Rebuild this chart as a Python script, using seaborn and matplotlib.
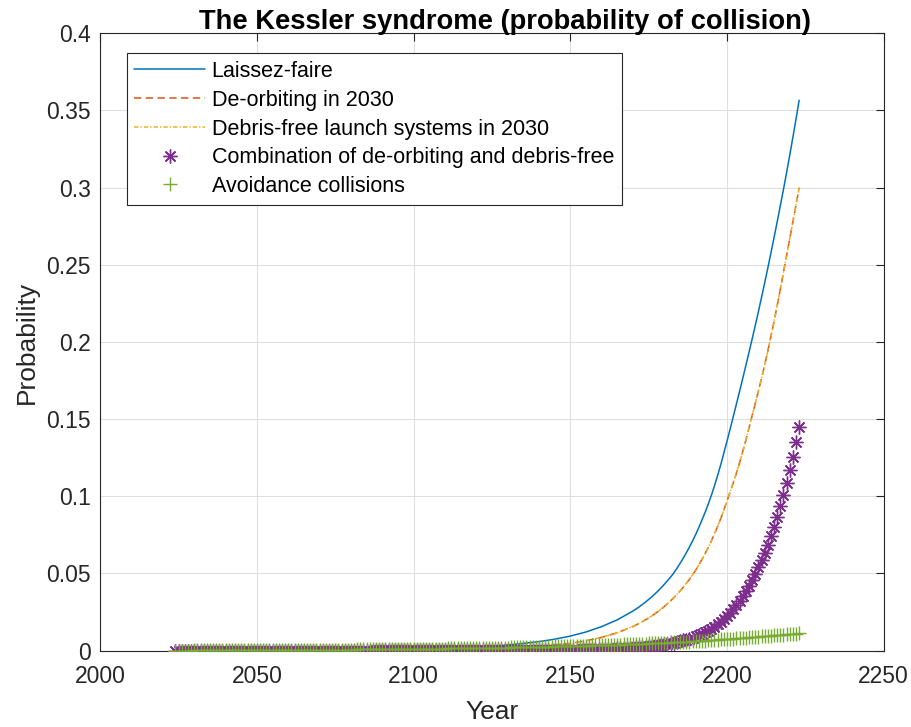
import matplotlib
matplotlib.use("Agg")
import matplotlib.pyplot as plt
import seaborn as sns

# ---------------------------------------------------------------------------
# Data
# ---------------------------------------------------------------------------
# Yearly results for the marker series (2024 .. 2223)
years = list(range(2024, 2224))

combination = [
    0.00001, 0.00001, 0.00001, 0.00001, 0.00001, 0.00001,
    0.00001, 0.00001, 0.00001, 0.00001, 0.00002, 0.00002, 0.00002, 0.00002, 0.00002, 0.00002,
    0.00002, 0.00002, 0.00002, 0.00002, 0.00003, 0.00003, 0.00003, 0.00003, 0.00003, 0.00003,
    0.00003, 0.00003, 0.00003, 0.00004, 0.00004, 0.00004, 0.00004, 0.00004, 0.00004, 0.00004,
    0.00004, 0.00004, 0.00005, 0.00005, 0.00005, 0.00005, 0.00005, 0.00005, 0.00006, 0.00006,
    0.00006, 0.00006, 0.00006, 0.00006, 0.00007, 0.00007, 0.00007, 0.00007, 0.00008, 0.00008,
    0.00008, 0.00008, 0.00009, 0.00009, 0.00009, 0.00010, 0.00010, 0.00010, 0.00011, 0.00011,
    0.00011, 0.00011, 0.00011, 0.00012, 0.00012, 0.00012, 0.00012, 0.00013, 0.00013, 0.00013,
    0.00013, 0.00013, 0.00014, 0.00014, 0.00015, 0.00015, 0.00016, 0.00016, 0.00017, 0.00017,
    0.00018, 0.00018, 0.00019, 0.00019, 0.00020, 0.00021, 0.00021, 0.00022, 0.00023, 0.00024,
    0.00024, 0.00025, 0.00026, 0.00027, 0.00028, 0.00029, 0.00030, 0.00031, 0.00032, 0.00033,
    0.00034, 0.00035, 0.00036, 0.00037, 0.00038, 0.00039, 0.00040, 0.00042, 0.00043, 0.00044,
    0.00045, 0.00047, 0.00048, 0.00050, 0.00052, 0.00054, 0.00056, 0.00058, 0.00060, 0.00062,
    0.00065, 0.00068, 0.00071, 0.00075, 0.00079, 0.00083, 0.00088, 0.00093, 0.00098, 0.00104,
    0.00110, 0.00117, 0.00124, 0.00131, 0.00139, 0.00148, 0.00158, 0.00168, 0.00179, 0.00191,
    0.00204, 0.00218, 0.00233, 0.00249, 0.00267, 0.00287, 0.00308, 0.00331, 0.00356, 0.00383,
    0.00413, 0.00446, 0.00481, 0.00520, 0.00563, 0.00610, 0.00661, 0.00717, 0.00779, 0.00847,
    0.00921, 0.01003, 0.01094, 0.01193, 0.01303, 0.01424, 0.01558, 0.01706, 0.01870, 0.02051,
    0.02250, 0.02468, 0.02705, 0.02960, 0.03235, 0.03532, 0.03854, 0.04197, 0.04566, 0.04963,
    0.05390, 0.05848, 0.06339, 0.06865, 0.07428, 0.08030, 0.08672, 0.09357, 0.10087, 0.10864,
    0.11690, 0.12566, 0.13496, 0.14481,
]

avoidance = [
    0.00005, 0.00006, 0.00007, 0.00008, 0.00009, 0.00010,
    0.00011, 0.00012, 0.00013, 0.00014, 0.00015, 0.00016, 0.00017, 0.00018, 0.00019, 0.00020,
    0.00021, 0.00022, 0.00023, 0.00024, 0.00025, 0.00026, 0.00027, 0.00028, 0.00029, 0.00030,
    0.00031, 0.00032, 0.00033, 0.00034, 0.00035, 0.00036, 0.00037, 0.00038, 0.00039, 0.00040,
    0.00041, 0.00042, 0.00043, 0.00044, 0.00045, 0.00046, 0.00047, 0.00048, 0.00049, 0.00050,
    0.00052, 0.00054, 0.00056, 0.00058, 0.00060, 0.00062, 0.00064, 0.00066, 0.00068, 0.00070,
    0.00072, 0.00074, 0.00076, 0.00078, 0.00080, 0.00082, 0.00084, 0.00086, 0.00088, 0.00090,
    0.00092, 0.00094, 0.00096, 0.00098, 0.00100, 0.00102, 0.00104, 0.00106, 0.00108, 0.00110,
    0.00112, 0.00115, 0.00117, 0.00120, 0.00122, 0.00125, 0.00127, 0.00130, 0.00132, 0.00135,
    0.00138, 0.00141, 0.00144, 0.00147, 0.00150, 0.00153, 0.00156, 0.00159, 0.00162, 0.00165,
    0.00169, 0.00172, 0.00176, 0.00179, 0.00183, 0.00186, 0.00190, 0.00193, 0.00197, 0.00200,
    0.00204, 0.00208, 0.00212, 0.00216, 0.00220, 0.00224, 0.00228, 0.00232, 0.00236, 0.00240,
    0.00245, 0.00250, 0.00255, 0.00260, 0.00265, 0.00270, 0.00275, 0.00280, 0.00285, 0.00290,
    0.00296, 0.00302, 0.00308, 0.00314, 0.00320, 0.00326, 0.00332, 0.00338, 0.00344, 0.00350,
    0.00357, 0.00364, 0.00371, 0.00378, 0.00385, 0.00392, 0.00399, 0.00406, 0.00413, 0.00420,
    0.00428, 0.00436, 0.00444, 0.00452, 0.00460, 0.00468, 0.00476, 0.00484, 0.00492, 0.00500,
    0.00510, 0.00520, 0.00530, 0.00540, 0.00550, 0.00560, 0.00570, 0.00580, 0.00590, 0.00600,
    0.00614, 0.00628, 0.00642, 0.00656, 0.00670, 0.00684, 0.00698, 0.00712, 0.00726, 0.00740,
    0.00756, 0.00772, 0.00788, 0.00804, 0.00820, 0.00836, 0.00852, 0.00868, 0.00884, 0.00900,
    0.00916, 0.00932, 0.00948, 0.00964, 0.00980, 0.00996, 0.01012, 0.01028, 0.01044, 0.01060,
    0.01076, 0.01092, 0.01108, 0.01124,
]

# Sampled years for the continuous scenarios (denser where the curves bend)
line_years = [2024, 2030, 2040, 2050, 2060, 2070, 2080, 2090, 2100, 2110, 2120,
              2130, 2140, 2145, 2150, 2155, 2160, 2165, 2170, 2172, 2174, 2176,
              2178, 2180, 2182] + list(range(2183, 2224))

laissez_faire = [
    0.00002, 0.00003, 0.00005, 0.00008, 0.00013, 0.00020, 0.00033, 0.00053, 0.00086,
    0.00139, 0.00224, 0.00362, 0.00585, 0.00743, 0.00945, 0.01210, 0.01560, 0.02000,
    0.02570, 0.02840, 0.03150, 0.03490, 0.03870, 0.04300, 0.04770,
    0.0503, 0.0533, 0.0565, 0.0598, 0.0634, 0.0671, 0.0711, 0.0753, 0.0798, 0.0846,
    0.0896, 0.0949, 0.1006, 0.1069, 0.1135, 0.1206, 0.1281, 0.1358, 0.1437, 0.1517,
    0.1598, 0.1680, 0.1763, 0.1847, 0.1932, 0.2018, 0.2106, 0.2196, 0.2288, 0.2382,
    0.2478, 0.2576, 0.2676, 0.2778, 0.2882, 0.2988, 0.3097, 0.3209, 0.3324, 0.3443,
    0.3566,
]

deorbiting = [
    0.00001, 0.00001, 0.00002, 0.00004, 0.00006, 0.00010, 0.00016, 0.00026, 0.00042,
    0.00068, 0.00110, 0.00180, 0.00290, 0.00370, 0.00470, 0.00640, 0.00860, 0.01160,
    0.01570, 0.01770, 0.02000, 0.02250, 0.02540, 0.02860, 0.03230,
    0.0343, 0.0364, 0.0386, 0.0410, 0.0436, 0.0462, 0.0491, 0.0522, 0.0555, 0.0591,
    0.0629, 0.0669, 0.0711, 0.0757, 0.0805, 0.0857, 0.0911, 0.0970, 0.1029, 0.1088,
    0.1151, 0.1218, 0.1288, 0.1363, 0.1442, 0.1522, 0.1601, 0.1681, 0.1763, 0.1849,
    0.1940, 0.2035, 0.2133, 0.2235, 0.2341, 0.2450, 0.2558, 0.2667, 0.2777, 0.2888,
    0.3000,
]

debris_free = [
    0.00001, 0.00001, 0.00002, 0.00004, 0.00006, 0.00010, 0.00016, 0.00026, 0.00042,
    0.00068, 0.00110, 0.00180, 0.00290, 0.00370, 0.00470, 0.00640, 0.00860, 0.01160,
    0.01570, 0.01770, 0.02000, 0.02250, 0.02540, 0.02860, 0.03230,
    0.0343, 0.0364, 0.0386, 0.0410, 0.0436, 0.0462, 0.0491, 0.0522, 0.0555, 0.0591,
    0.0629, 0.0669, 0.0711, 0.0757, 0.0805, 0.0857, 0.0911, 0.0970, 0.1029, 0.1088,
    0.1151, 0.1218, 0.1288, 0.1363, 0.1442, 0.1522, 0.1601, 0.1681, 0.1763, 0.1849,
    0.1940, 0.2035, 0.2133, 0.2235, 0.2341, 0.2450, 0.2558, 0.2667, 0.2777, 0.2888,
    0.3000,
]

labels = [
    "Laissez-faire",
    "De-orbiting in 2030",
    "Debris-free launch systems in 2030",
    "Combination of de-orbiting and debris-free",
    "Avoidance collisions",
]
colors = ["#0072BD", "#D95319", "#EDB120", "#7E2F8E", "#77AC30"]

x_ticks = [2000, 2050, 2100, 2150, 2200, 2250]
y_ticks = [0, 0.05, 0.1, 0.15, 0.2, 0.25, 0.3, 0.35, 0.4]
y_ticklabels = ["0", "0.05", "0.1", "0.15", "0.2", "0.25", "0.3", "0.35", "0.4"]

# ---------------------------------------------------------------------------
# Style
# ---------------------------------------------------------------------------
sns.set_theme(style="white")
plt.rcParams["font.family"] = ["Liberation Sans", "DejaVu Sans"]
ink = "#262626"

fig = plt.figure(figsize=(9.12, 7.27), dpi=100)
ax = fig.add_axes([0.1099, 0.1050, 0.8591, 0.8492])

# ---------------------------------------------------------------------------
# Series
# ---------------------------------------------------------------------------
lw = 1.1
sns.lineplot(x=line_years, y=laissez_faire, ax=ax, color=colors[0], lw=lw,
             label=labels[0], zorder=3)
sns.lineplot(x=line_years, y=deorbiting, ax=ax, color=colors[1], lw=lw,
             label=labels[1], zorder=3)
ax.lines[-1].set_dashes([4.8, 2.9])
sns.lineplot(x=line_years, y=debris_free, ax=ax, color=colors[2], lw=lw,
             label=labels[2], zorder=3)
ax.lines[-1].set_dashes([2.9, 1.3, 0.9, 1.3])

sns.lineplot(x=years, y=combination, ax=ax, color=colors[3], linestyle="none",
             marker=(8, 2, 0), markersize=10, markeredgewidth=1.0,
             markeredgecolor=colors[3], label=labels[3], zorder=4)
sns.lineplot(x=years, y=avoidance, ax=ax, color=colors[4], linestyle="none",
             marker="+", markersize=10, markeredgewidth=1.0,
             markeredgecolor=colors[4], label=labels[4], zorder=5)

# ---------------------------------------------------------------------------
# Axes decoration
# ---------------------------------------------------------------------------
ax.set_xlim(2000, 2250)
ax.set_ylim(0, 0.4)
ax.set_xticks(x_ticks)
ax.set_yticks(y_ticks)
ax.set_xticklabels([str(t) for t in x_ticks])
ax.set_yticklabels(y_ticklabels)

ax.set_axisbelow(True)
ax.grid(True, color="#dfdfdf", lw=0.8)
for s in ax.spines.values():
    s.set_color(ink)
    s.set_linewidth(0.8)
    s.set_visible(True)
ax.tick_params(direction="in", top=True, right=True, length=6, width=0.8,
               colors=ink, labelsize=16.5)
ax.tick_params(axis="x", pad=10)
ax.tick_params(axis="y", pad=7)

ax.set_title("The Kessler syndrome (probability of collision)", fontsize=19.7,
             fontweight="bold", color="black", pad=3, x=0.516)
ax.set_xlabel("Year", fontsize=19, color=ink, labelpad=9)
ax.set_ylabel("Probability", fontsize=19, color=ink, labelpad=5)

leg = ax.legend(loc="upper left", bbox_to_anchor=(0.0338, 0.9673),
                borderaxespad=0, fontsize=15.5, frameon=True, fancybox=False,
                framealpha=1, edgecolor=ink, handlelength=3.3,
                handletextpad=0.3, labelspacing=0.36, borderpad=0.35,
                numpoints=1)
leg.get_frame().set_linewidth(0.8)
for t in leg.get_texts():
    t.set_color("black")

fig.savefig("out.png", dpi=100)
